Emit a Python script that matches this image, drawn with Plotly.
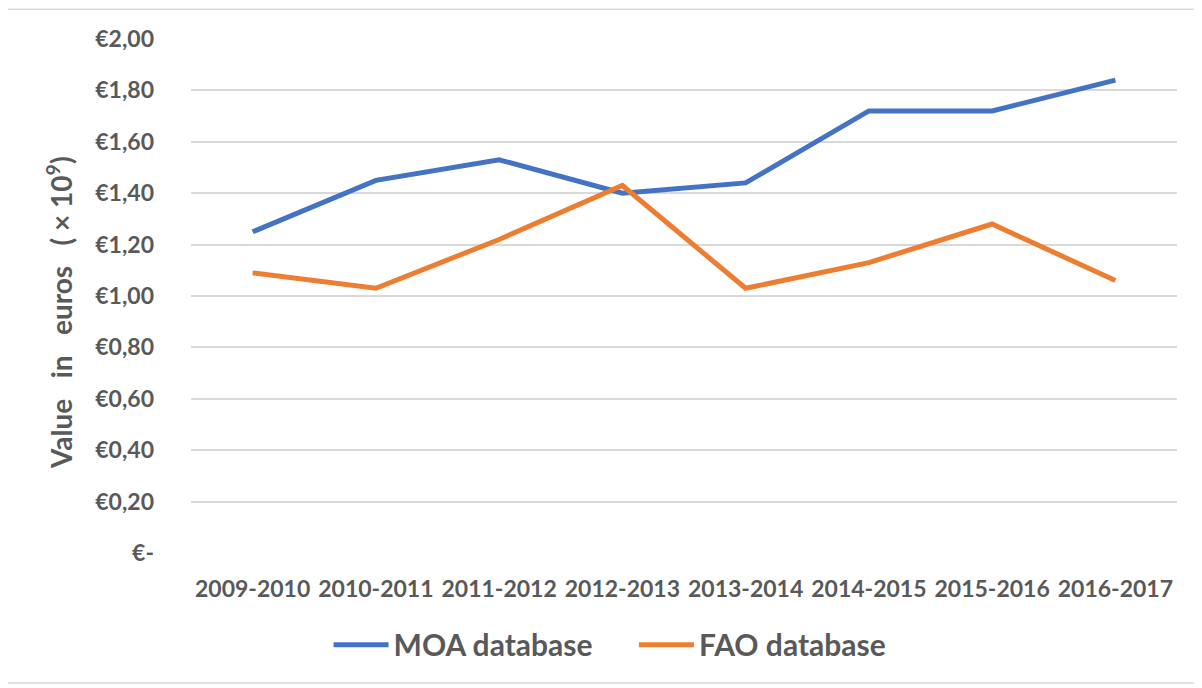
import plotly.graph_objects as go

categories = ["2009-2010", "2010-2011", "2011-2012", "2012-2013",
              "2013-2014", "2014-2015", "2015-2016", "2016-2017"]
moa_values = [1.25, 1.45, 1.53, 1.40, 1.44, 1.72, 1.72, 1.84]
fao_values = [1.09, 1.03, 1.22, 1.43, 1.03, 1.13, 1.28, 1.06]
tick_vals = [0.0, 0.2, 0.4, 0.6, 0.8, 1.0, 1.2, 1.4, 1.6, 1.8, 2.0]
tick_text = ["€-", "€0,20", "€0,40", "€0,60", "€0,80", "€1,00",
             "€1,20", "€1,40", "€1,60", "€1,80", "€2,00"]

GRAY = "#595959"
FONT = "Lato"

fig = go.Figure()
fig.add_trace(go.Scatter(x=categories, y=moa_values, mode="lines",
                         name="MOA database\u00a0\u00a0\u00a0\u00a0\u00a0",
                         line=dict(color="#4472C4", width=5)))
fig.add_trace(go.Scatter(x=categories, y=fao_values, mode="lines",
                         name="FAO database",
                         line=dict(color="#ED7D31", width=5)))

fig.update_layout(
    width=1202, height=688,
    margin=dict(l=183, r=33, t=31, b=143),
    paper_bgcolor="white", plot_bgcolor="white",
    font=dict(family=FONT, color=GRAY),
    showlegend=True,
    legend=dict(orientation="h", x=0.425, xanchor="center", y=-0.128, yanchor="top",
                font=dict(size=30, family=FONT, color=GRAY, weight="bold"),
                itemwidth=55, traceorder="normal"),
    xaxis=dict(type="category", showgrid=False, showline=False, zeroline=False,
               ticks="", tickfont=dict(size=23, family=FONT, color=GRAY, weight="bold"),
               ticklabelstandoff=20, range=[-0.5, 7.5]),
    yaxis=dict(range=[0, 2.0], tickvals=tick_vals, ticktext=tick_text,
               showgrid=True, gridcolor="#D9D9D9", gridwidth=1.5,
               zeroline=False, showline=False, ticks="",
               tickfont=dict(size=23, family=FONT, color=GRAY, weight="bold"),
               ticklabelstandoff=36),
    annotations=[dict(text="Value\u00a0\u00a0 in\u00a0\u00a0 euros\u00a0\u00a0 (\u00a0× 10<sup>9</sup>)",
                      textangle=-90, xref="paper", yref="paper",
                      x=(59 - 191) / 986, y=(553 - 313) / 514,
                      xanchor="center", yanchor="middle", showarrow=False,
                      font=dict(size=28, family=FONT, color=GRAY, weight="bold"))],
    shapes=[dict(type="rect", xref="paper", yref="paper",
                 x0=-0.1866, x1=1.018, y0=-0.253, y1=1.058,
                 line=dict(color="#D9D9D9", width=1.5), layer="below")],
)

fig.write_html("out.html")
